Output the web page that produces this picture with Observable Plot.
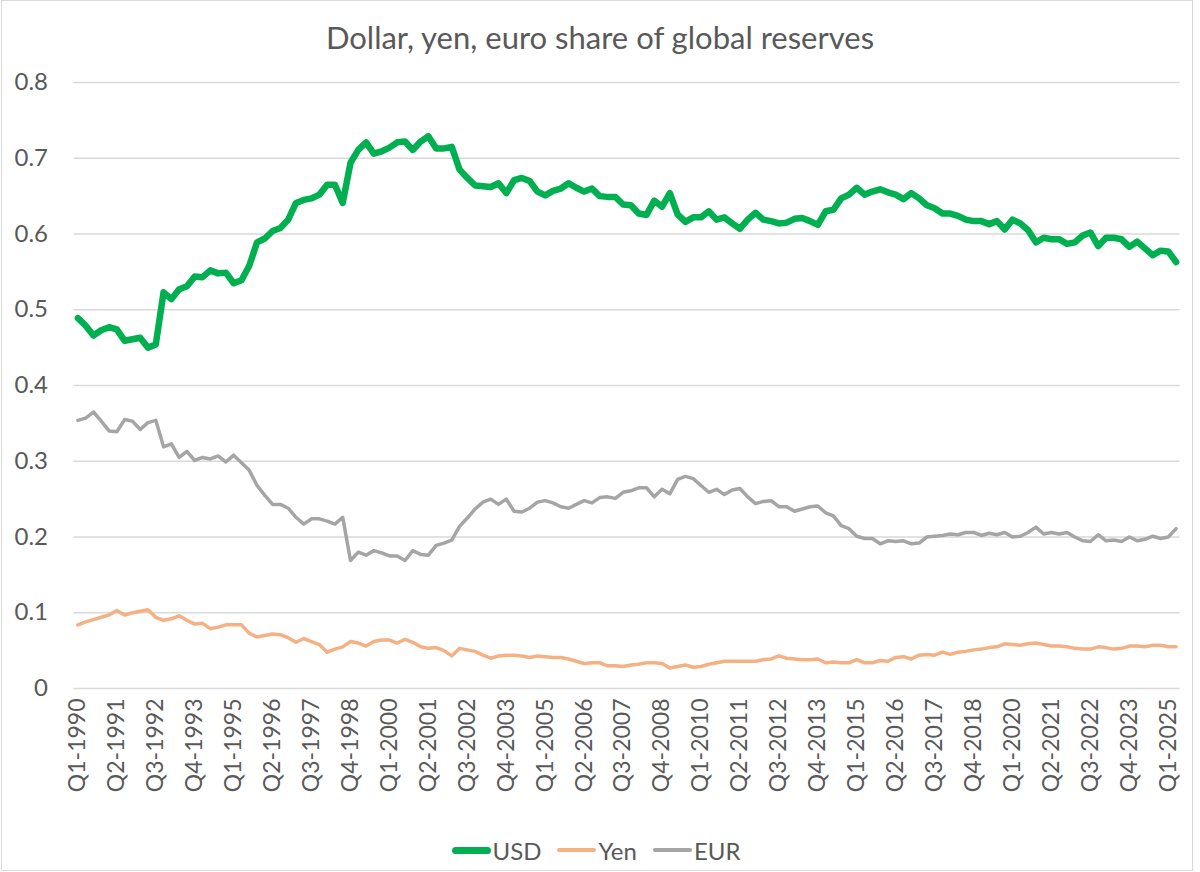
<!DOCTYPE html>
<html>
<head>
<meta charset="utf-8">
<script src="https://cdn.jsdelivr.net/npm/d3@7"></script>
<script src="https://cdn.jsdelivr.net/npm/@observablehq/plot@0.6"></script>
<style>
  body { margin: 0; background: #fff; font-family: Lato, "Open Sans", sans-serif; color: #595959; }
  #chart { position: relative; width: 1200px; height: 872px; overflow: hidden; background: #fff; }
  #frame { position: absolute; left: 1px; top: 0px; width: 1190px; height: 869px; border: 1px solid #d9d9d9; pointer-events: none; }
  #title { position: absolute; top: 19px; left: 0; width: 1200px; text-align: center; font-size: 31px; line-height: 36px; }
  #plot { position: absolute; top: 60px; left: 0; }
  #legend { position: absolute; top: 834px; left: 0; width: 1192px; height: 32px; display: flex; justify-content: center; align-items: center; font-size: 24px; }
  .item { display: flex; align-items: center; margin: 0 8px; }
  .sw { width: 39px; border-radius: 4px; margin-right: 2px; }
</style>
</head>
<body>
<div id="chart">
  <div id="title">Dollar, yen, euro share of global reserves</div>
  <div id="plot"></div>
  <div id="legend"></div>
  <div id="frame"></div>
</div>
<script>
// Quarterly categories Q1-1990 .. Q2-2025 (142 quarters)
const startYear = 1990;
const nQuarters = 142;
const quarters = [];
for (let i = 0; i < nQuarters; i++) {
  quarters.push("Q" + (i % 4 + 1) + "-" + (startYear + Math.floor(i / 4)));
}

const tickLabels = [
  "Q1-1990","Q2-1991","Q3-1992","Q4-1993","Q1-1995","Q2-1996","Q3-1997","Q4-1998",
  "Q1-2000","Q2-2001","Q3-2002","Q4-2003","Q1-2005","Q2-2006","Q3-2007","Q4-2008",
  "Q1-2010","Q2-2011","Q3-2012","Q4-2013","Q1-2015","Q2-2016","Q3-2017","Q4-2018",
  "Q1-2020","Q2-2021","Q3-2022","Q4-2023","Q1-2025"
];

const yTicks = [0, 0.1, 0.2, 0.3, 0.4, 0.5, 0.6, 0.7, 0.8];

const usd = [
  0.489,0.479,0.466,0.473,0.477,0.474,0.459,0.461,0.463,0.450,0.454,0.523,0.514,0.527,0.531,0.544,0.543,
  0.552,0.548,0.549,0.535,0.539,0.558,0.589,0.594,0.604,0.608,0.619,0.641,0.645,0.647,0.652,0.665,0.665,
  0.641,0.694,0.711,0.721,0.706,0.709,0.714,0.721,0.722,0.711,0.722,0.729,0.713,0.713,0.715,0.685,0.674,
  0.664,0.663,0.662,0.667,0.654,0.671,0.674,0.670,0.656,0.651,0.657,0.660,0.667,0.661,0.656,0.660,0.650,0.649,
  0.649,0.639,0.638,0.627,0.625,0.644,0.636,0.654,0.626,0.616,0.622,0.622,0.630,0.619,0.622,0.614,0.607,
  0.619,0.628,0.619,0.617,0.614,0.615,0.620,0.621,0.617,0.612,0.630,0.632,0.647,0.652,0.661,0.652,0.656,0.659,
  0.655,0.652,0.646,0.654,0.647,0.638,0.634,0.627,0.627,0.624,0.619,0.617,0.617,0.613,0.617,0.606,0.619,
  0.614,0.605,0.589,0.595,0.593,0.593,0.587,0.589,0.598,0.602,0.584,0.595,0.595,0.593,0.583,0.590,0.581,
  0.572,0.578,0.577,0.563
];

const yen = [
  0.084,0.088,0.091,0.094,0.097,0.103,0.097,0.100,0.102,0.104,0.094,0.090,0.092,0.096,0.090,0.085,0.086,
  0.079,0.081,0.084,0.084,0.084,0.073,0.068,0.070,0.072,0.071,0.067,0.061,0.066,0.062,0.058,0.048,0.052,
  0.055,0.062,0.060,0.056,0.062,0.064,0.064,0.060,0.065,0.061,0.055,0.053,0.054,0.050,0.043,0.053,0.051,
  0.049,0.044,0.040,0.043,0.044,0.044,0.043,0.041,0.043,0.042,0.041,0.041,0.039,0.036,0.033,0.034,0.034,0.030,
  0.030,0.029,0.031,0.032,0.034,0.034,0.033,0.027,0.029,0.031,0.028,0.029,0.032,0.034,0.036,0.036,0.036,
  0.036,0.036,0.038,0.039,0.043,0.040,0.039,0.038,0.038,0.039,0.034,0.035,0.034,0.034,0.038,0.034,0.034,0.037,
  0.036,0.041,0.042,0.039,0.044,0.045,0.044,0.048,0.045,0.048,0.049,0.051,0.052,0.054,0.055,0.059,0.058,
  0.057,0.059,0.060,0.058,0.056,0.056,0.055,0.053,0.052,0.052,0.055,0.054,0.052,0.053,0.056,0.056,0.055,
  0.057,0.057,0.055,0.055
];

const eur = [
  0.354,0.357,0.365,0.353,0.340,0.339,0.355,0.353,0.342,0.351,0.354,0.319,0.323,0.305,0.313,0.301,0.305,
  0.303,0.307,0.299,0.308,0.298,0.288,0.268,0.255,0.243,0.243,0.238,0.226,0.217,0.224,0.224,0.221,0.217,
  0.226,0.169,0.180,0.176,0.182,0.179,0.175,0.175,0.169,0.182,0.177,0.176,0.189,0.192,0.196,0.214,0.225,
  0.237,0.246,0.250,0.243,0.250,0.234,0.233,0.238,0.246,0.248,0.245,0.240,0.238,0.243,0.248,0.245,0.252,0.253,
  0.251,0.259,0.261,0.265,0.265,0.253,0.263,0.257,0.276,0.280,0.277,0.268,0.259,0.263,0.256,0.262,0.264,
  0.253,0.244,0.247,0.248,0.240,0.240,0.234,0.237,0.240,0.241,0.232,0.228,0.215,0.211,0.201,0.198,0.198,0.191,
  0.195,0.194,0.195,0.191,0.192,0.200,0.201,0.202,0.204,0.203,0.206,0.206,0.202,0.205,0.203,0.206,0.200,
  0.201,0.206,0.213,0.204,0.206,0.204,0.206,0.200,0.195,0.194,0.203,0.195,0.196,0.194,0.200,0.195,0.197,
  0.201,0.198,0.200,0.211
];

const seriesNames = ["USD", "Yen", "EUR"];
const seriesColors = ["#00B050", "#F4B183", "#A5A5A5"];
const seriesWidths = [6.5, 3.5, 3.5];
const seriesValues = [usd, yen, eur];

function rowsOf(values) {
  return values.map((v, i) => ({ q: quarters[i], v }));
}

const chart = Plot.plot({
  width: 1200,
  height: 740,
  marginLeft: 73.5,
  marginRight: 20.5,
  marginTop: 22,
  marginBottom: 112,
  style: { fontFamily: "Lato, 'Open Sans', sans-serif", color: "#595959", background: "transparent", overflow: "visible" },
  x: { type: "point", domain: quarters, padding: 0.5, label: null },
  y: { domain: [0, 0.8], label: null },
  marks: [
    Plot.gridY(yTicks, { stroke: "#d9d9d9", strokeOpacity: 1, strokeWidth: 1.3 }),
    Plot.axisY(yTicks, {
      tickSize: 0, tickPadding: 26, fontSize: 24, label: null,
      tickFormat: d => d === 0 ? "0" : d.toFixed(1)
    }),
    Plot.axisX(tickLabels, {
      tickRotate: -90, tickSize: 0, tickPadding: 10, fontSize: 23, label: null
    }),
    ...[2, 1, 0].map(j => Plot.line(rowsOf(seriesValues[j]), {
      x: "q", y: "v", stroke: seriesColors[j], strokeWidth: seriesWidths[j],
      strokeLinejoin: "round", strokeLinecap: "round"
    }))
  ]
});
document.getElementById("plot").appendChild(chart);

const legend = document.getElementById("legend");
seriesNames.forEach((name, j) => {
  const item = document.createElement("div");
  item.className = "item";
  const sw = document.createElement("div");
  sw.className = "sw";
  sw.style.background = seriesColors[j];
  sw.style.height = (j === 0 ? 7 : 4) + "px";
  const label = document.createElement("span");
  label.textContent = name;
  item.appendChild(sw);
  item.appendChild(label);
  legend.appendChild(item);
});
</script>
</body>
</html>
